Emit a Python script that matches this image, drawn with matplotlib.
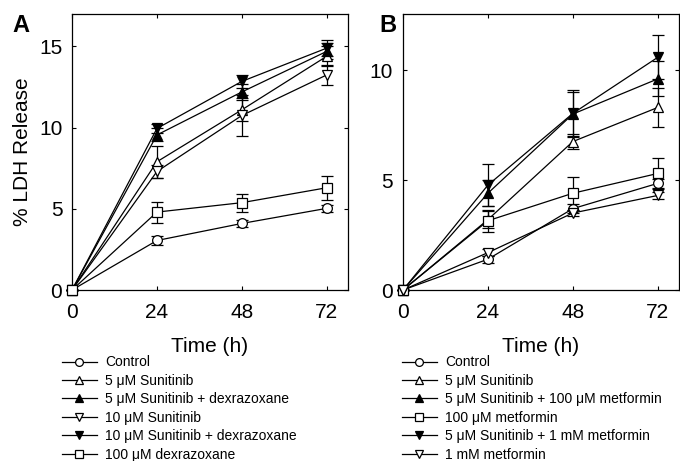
import matplotlib
matplotlib.use('Agg')
import matplotlib.pyplot as plt

plt.rcParams['font.family'] = ['Liberation Sans', 'DejaVu Sans']

hours = [0, 24, 48, 72]

# Panel A
a_labels = ['Control', '5 μM Sunitinib', '5 μM Sunitinib + dexrazoxane',
            '10 μM Sunitinib', '10 μM Sunitinib + dexrazoxane', '100 μM dexrazoxane']
a_control = [0, 3.05, 4.1, 5.03]
a_control_err = [0, 0.25, 0.2, 0.2]
a_sun5 = [0, 7.9, 11.1, 14.4]
a_sun5_err = [0, 1.0, 0.7, 0.6]
a_sun5_dex = [0, 9.55, 12.2, 14.7]
a_sun5_dex_err = [0, 0.4, 0.5, 0.5]
a_sun10 = [0, 7.3, 10.75, 13.25]
a_sun10_err = [0, 0.4, 1.25, 0.6]
a_sun10_dex = [0, 9.95, 12.85, 14.9]
a_sun10_dex_err = [0, 0.3, 0.4, 0.5]
a_dex = [0, 4.8, 5.38, 6.3]
a_dex_err = [0, 0.65, 0.55, 0.75]

# Panel B
b_labels = ['Control', '5 μM Sunitinib', '5 μM Sunitinib + 100 μM metformin',
            '100 μM metformin', '5 μM Sunitinib + 1 mM metformin', '1 mM metformin']
b_control = [0, 1.4, 3.7, 4.85]
b_control_err = [0, 0.15, 0.2, 0.2]
b_sun5 = [0, 3.2, 6.75, 8.3]
b_sun5_err = [0, 0.4, 0.35, 0.9]
b_sun5_met100 = [0, 4.4, 8.0, 9.6]
b_sun5_met100_err = [0, 0.6, 1.0, 0.8]
b_met100 = [0, 3.15, 4.4, 5.3]
b_met100_err = [0, 0.5, 0.75, 0.7]
b_sun5_met1 = [0, 4.77, 8.03, 10.58]
b_sun5_met1_err = [0, 0.95, 1.05, 1.0]
b_met1 = [0, 1.7, 3.5, 4.3]
b_met1_err = [0, 0.15, 0.15, 0.15]

a_series = [(a_control, a_control_err, 'o', 'white'),
            (a_sun5, a_sun5_err, '^', 'white'),
            (a_sun5_dex, a_sun5_dex_err, '^', 'black'),
            (a_sun10, a_sun10_err, 'v', 'white'),
            (a_sun10_dex, a_sun10_dex_err, 'v', 'black'),
            (a_dex, a_dex_err, 's', 'white')]
b_series = [(b_control, b_control_err, 'o', 'white'),
            (b_sun5, b_sun5_err, '^', 'white'),
            (b_sun5_met100, b_sun5_met100_err, '^', 'black'),
            (b_met100, b_met100_err, 's', 'white'),
            (b_sun5_met1, b_sun5_met1_err, 'v', 'black'),
            (b_met1, b_met1_err, 'v', 'white')]

fig = plt.figure(figsize=(6.8, 4.61), dpi=100)
ax_a = fig.add_axes([0.1059, 0.3709, 0.4059, 0.5987])
ax_b = fig.add_axes([0.5926, 0.3709, 0.4059, 0.5987])


def draw(ax, series, labels, ylim, yticks):
    handles = []
    for (vals, err, mk, fc), lab in zip(series, labels):
        ax.errorbar(hours, vals, yerr=err, color='black', lw=0.9, elinewidth=0.9,
                    capsize=4, capthick=0.9, zorder=2, clip_on=False, fmt='none')
        h, = ax.plot(hours, vals, color='black', lw=0.9, marker=mk, ms=7,
                     mfc=fc, mec='black', mew=0.9, label=lab, zorder=3, clip_on=False)
        handles.append(h)
    ax.set_xlim(0, 78)
    ax.set_ylim(*ylim)
    ax.set_xticks(hours)
    ax.set_yticks(yticks)
    ax.tick_params(direction='in', top=True, right=True, length=3, width=0.8,
                   labelsize=15)
    ax.tick_params(axis='x', pad=9)
    ax.tick_params(axis='y', pad=7)
    for s in ax.spines.values():
        s.set_linewidth(0.9)
    ax.set_xlabel('Time (h)', fontsize=15, labelpad=11)
    return handles


ha = draw(ax_a, a_series, a_labels, (0, 17), [0, 5, 10, 15])
hb = draw(ax_b, b_series, b_labels, (0, 12.55), [0, 5, 10])
ax_a.set_ylabel('% LDH Release', fontsize=15, labelpad=5)

for ax, hs, x in [(ax_a, ha, 0.091), (ax_b, hb, 0.591)]:
    fig.legend(handles=hs, loc='upper left', bbox_to_anchor=(x, 0.229),
               bbox_transform=fig.transFigure, frameon=False, fontsize=10,
               handlelength=2.5, handletextpad=0.6, labelspacing=0.32,
               borderpad=0, borderaxespad=0, markerscale=0.8)

fig.text(0.018, 0.93, 'A', fontsize=17, fontweight='bold')
fig.text(0.558, 0.93, 'B', fontsize=17, fontweight='bold')

fig.savefig('out.png', dpi=100)
